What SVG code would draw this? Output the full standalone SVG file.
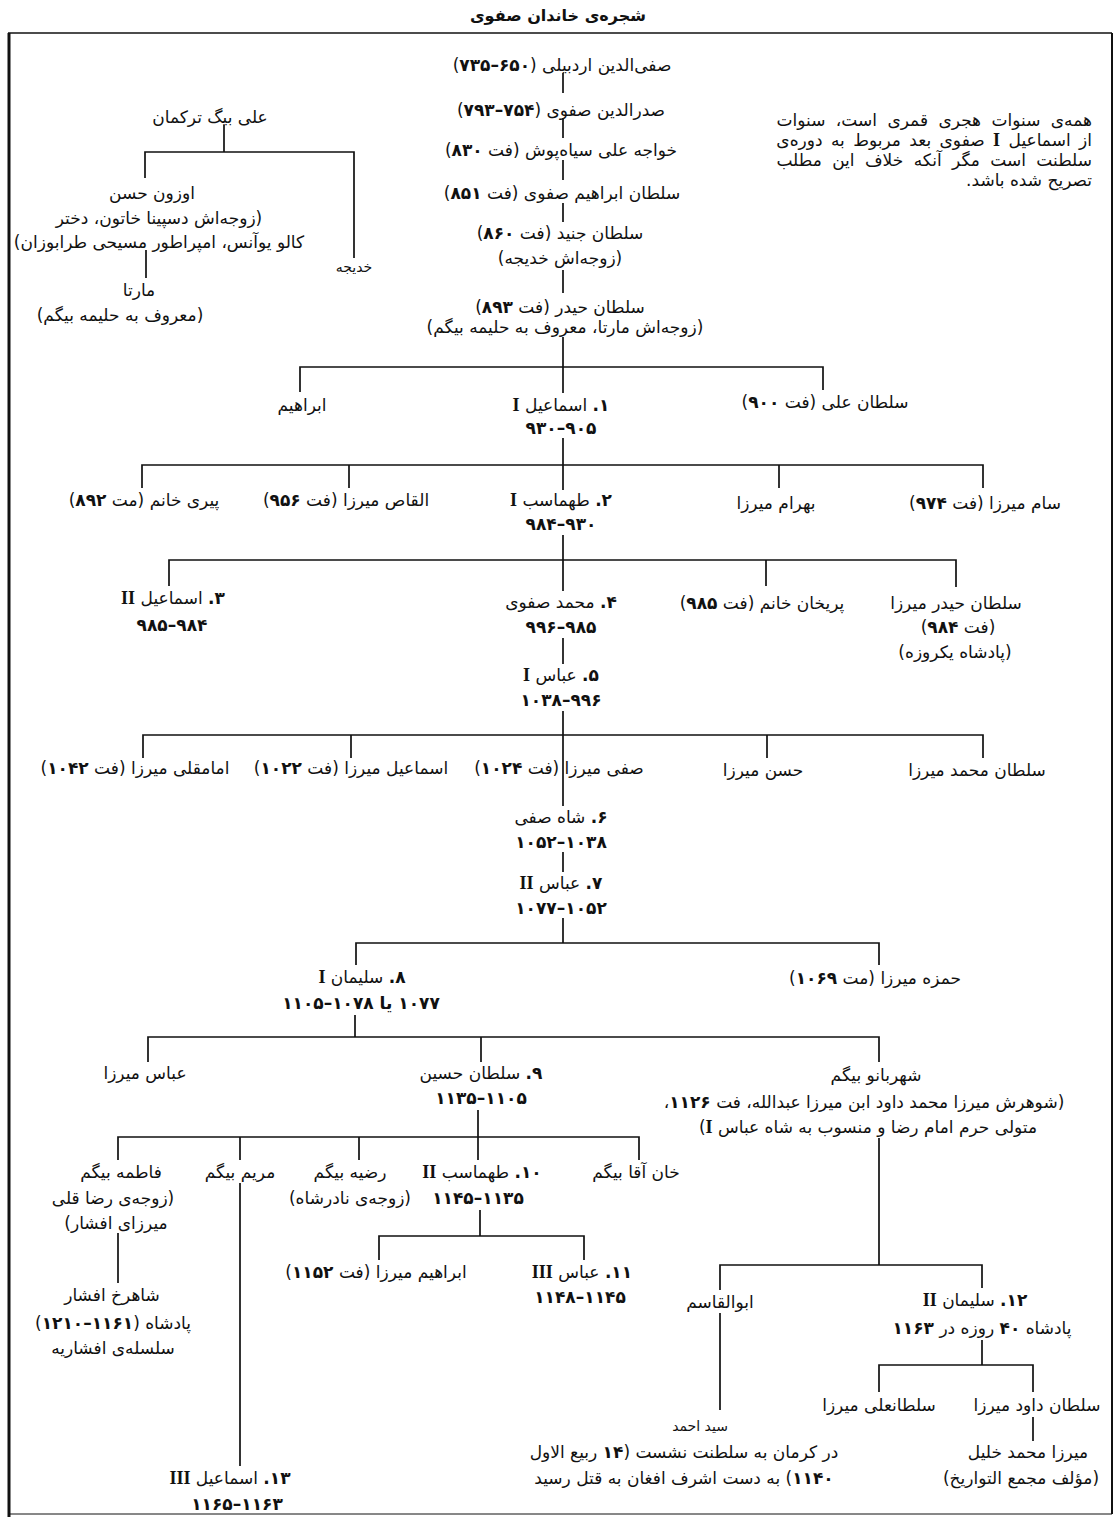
<svg xmlns="http://www.w3.org/2000/svg" width="1117" height="1517" viewBox="0 0 1117 1517">
<style>
text { font-family: "DejaVu Sans", sans-serif; font-size: 17px; direction: rtl; text-anchor: middle; fill: #111; }
.b { font-weight: bold; }
.rm { font-family: "Liberation Serif", serif; font-weight: bold; font-size: 18px; }
.title { font-size: 16px; font-weight: bold; }
.note { font-size: 17px; text-anchor: start; }
.sm { font-size: 14px; }
.c { stroke: #111; stroke-width: 1.7; fill: none; }
.fr { stroke: #111; fill: none; }
</style>
<rect width="1117" height="1517" fill="#fff"/>
<g id="frame">
  <line class="fr" x1="8" y1="33" x2="1112" y2="33" stroke-width="1.5"/>
  <line class="fr" x1="9" y1="33" x2="9" y2="1517" stroke-width="3"/>
  <line class="fr" x1="1112" y1="33" x2="1112" y2="1514" stroke-width="2"/>
  <line class="fr" x1="9" y1="1514" x2="1112" y2="1514" stroke-width="1" stroke="#888"/>
</g>
<g id="title"><text class="title" x="558" y="21">شجره&#x200C;ی خاندان صفوی</text></g>
<g id="connectors">
  <path class="c" d="M224 125 V152 M145 178 V152 H354 V258 M146 250 V278"/>
  <path class="c" d="M563 73 V93 M563 118 V138 M563 160 V180 M563 203 V222 M563 270 V293 M563 337 V393"/>
  <path class="c" d="M300 392 V367 H823 V390"/>
  <path class="c" d="M563 438 V490 M142 488 V465 H983 V488 M349 465 V488 M779 465 V488"/>
  <path class="c" d="M563 535 V591 M169 586 V560 H956 V587 M766 560 V586"/>
  <path class="c" d="M563 638 V664"/>
  <path class="c" d="M563 711 V806 M143 758 V735 H983 V758 M351 735 V758 M767 735 V758"/>
  <path class="c" d="M563 852 V872 M563 918 V943 M356 965 V943 H879 V965"/>
  <path class="c" d="M355 1015 V1037 M148 1062 V1037 H879 V1062 M481 1037 V1062"/>
  <path class="c" d="M478 1110 V1160 M118 1160 V1137 H639 V1160 M240 1137 V1160 M359 1137 V1160"/>
  <path class="c" d="M480 1210 V1236 M379 1260 V1236 H584 V1260"/>
  <path class="c" d="M118 1233 V1283 M240 1183 V1466"/>
  <path class="c" d="M879 1138 V1265 M720 1290 V1265 H982 V1288 M720 1313 V1410"/>
  <path class="c" d="M982 1340 V1365 M879 1392 V1365 H1033 V1392 M1033 1417 V1441"/>
</g>
<g id="note">
  <text class="note" x="1092" y="126" word-spacing="5">همه&#x200C;ی سنوات هجری قمری است، سنوات</text>
  <text class="note" x="1092" y="146" word-spacing="3">از اسماعیل <tspan class="rm">I</tspan> صفوی بعد مربوط به دوره&#x200C;ی</text>
  <text class="note" x="1092" y="166" word-spacing="5">سلطنت است مگر آنکه خلاف این مطلب</text>
  <text class="note" x="1092" y="186">تصریح شده باشد.</text>
</g>
<g id="ali-beg"><text x="210" y="123">علی بیگ ترکمان</text></g>
<g id="uzun-hasan">
  <text x="152" y="199">اوزون حسن</text>
  <text x="159" y="224">(زوجه&#x200C;اش دسپینا خاتون، دختر</text>
  <text x="159" y="248">کالو یوآنس، امپراطور مسیحی طرابوزان)</text>
</g>
<g id="khadijeh"><text class="sm" x="354" y="272">خدیجه</text></g>
<g id="marta">
  <text x="139" y="296">مارتا</text>
  <text x="120" y="321">(معروف به حلیمه بیگم)</text>
</g>
<g id="safi-al-din"><text x="562" y="71">صفی&#x200C;الدین اردبیلی (<tspan class="b">۶۵۰–۷۳۵</tspan>)</text></g>
<g id="sadr-al-din"><text x="561" y="116">صدرالدین صفوی (<tspan class="b">۷۵۴–۷۹۳</tspan>)</text></g>
<g id="khwaja-ali"><text x="561" y="156">خواجه علی سیاه&#x200C;پوش (فت <tspan class="b">۸۳۰</tspan>)</text></g>
<g id="ebrahim-safavi"><text x="562" y="199">سلطان ابراهیم صفوی (فت <tspan class="b">۸۵۱</tspan>)</text></g>
<g id="jonayd">
  <text x="560" y="239">سلطان جنید (فت <tspan class="b">۸۶۰</tspan>)</text>
  <text x="560" y="264">(زوجه&#x200C;اش خدیجه)</text>
</g>
<g id="haydar">
  <text x="560" y="313">سلطان حیدر (فت <tspan class="b">۸۹۳</tspan>)</text>
  <text x="565" y="333">(زوجه&#x200C;اش مارتا، معروف به حلیمه بیگم)</text>
</g>
<g id="ebrahim"><text x="302" y="411">ابراهیم</text></g>
<g id="ismail1">
  <text x="561" y="411"><tspan class="b">۱.</tspan> اسماعیل <tspan class="rm">I</tspan></text>
  <text class="b" x="561" y="434">۹۰۵–۹۳۰</text>
</g>
<g id="soltan-ali"><text x="825" y="408">سلطان علی (فت <tspan class="b">۹۰۰</tspan>)</text></g>
<g id="piri-khanom"><text x="144" y="506">پیری خانم (مت <tspan class="b">۸۹۲</tspan>)</text></g>
<g id="alqas"><text x="346" y="506">القاص میرزا (فت <tspan class="b">۹۵۶</tspan>)</text></g>
<g id="tahmasp1">
  <text x="561" y="506"><tspan class="b">۲.</tspan> طهماسب <tspan class="rm">I</tspan></text>
  <text class="b" x="561" y="530">۹۳۰–۹۸۴</text>
</g>
<g id="bahram"><text x="776" y="509">بهرام میرزا</text></g>
<g id="sam"><text x="985" y="509">سام میرزا (فت <tspan class="b">۹۷۴</tspan>)</text></g>
<g id="ismail2">
  <text x="173" y="604"><tspan class="b">۳.</tspan> اسماعیل <tspan class="rm">II</tspan></text>
  <text class="b" x="172" y="631">۹۸۴–۹۸۵</text>
</g>
<g id="mohammad">
  <text x="561" y="608"><tspan class="b">۴.</tspan> محمد صفوی</text>
  <text class="b" x="561" y="633">۹۸۵–۹۹۶</text>
</g>
<g id="parikhan"><text x="762" y="609">پریخان خانم (فت <tspan class="b">۹۸۵</tspan>)</text></g>
<g id="haydar-mirza">
  <text x="956" y="609">سلطان حیدر میرزا</text>
  <text x="958" y="633">(فت <tspan class="b">۹۸۴</tspan>)</text>
  <text x="955" y="658">(پادشاه یکروزه)</text>
</g>
<g id="abbas1">
  <text x="561" y="681"><tspan class="b">۵.</tspan> عباس <tspan class="rm">I</tspan></text>
  <text class="b" x="561" y="706">۹۹۶–۱۰۳۸</text>
</g>
<g id="emamqoli"><text x="135" y="774">امامقلی میرزا (فت <tspan class="b">۱۰۴۲</tspan>)</text></g>
<g id="ismail-mirza"><text x="351" y="774">اسماعیل میرزا (فت <tspan class="b">۱۰۲۲</tspan>)</text></g>
<g id="safi-mirza"><text x="559" y="774">صفی میرزا (فت <tspan class="b">۱۰۲۴</tspan>)</text></g>
<g id="hasan-mirza"><text x="763" y="776">حسن میرزا</text></g>
<g id="soltan-mohammad"><text x="977" y="776">سلطان محمد میرزا</text></g>
<g id="shah-safi">
  <text x="561" y="823"><tspan class="b">۶.</tspan> شاه صفی</text>
  <text class="b" x="561" y="848">۱۰۳۸–۱۰۵۲</text>
</g>
<g id="abbas2">
  <text x="561" y="889"><tspan class="b">۷.</tspan> عباس <tspan class="rm">II</tspan></text>
  <text class="b" x="561" y="914">۱۰۵۲–۱۰۷۷</text>
</g>
<g id="soleiman1">
  <text x="362" y="983"><tspan class="b">۸.</tspan> سلیمان <tspan class="rm">I</tspan></text>
  <text class="b" x="361" y="1009">۱۰۷۷ یا ۱۰۷۸–۱۱۰۵</text>
</g>
<g id="hamzeh"><text x="875" y="984">حمزه میرزا (مت <tspan class="b">۱۰۶۹</tspan>)</text></g>
<g id="abbas-mirza"><text x="145" y="1079">عباس میرزا</text></g>
<g id="soltan-hosein">
  <text x="481" y="1079"><tspan class="b">۹.</tspan> سلطان حسین</text>
  <text class="b" x="481" y="1104">۱۱۰۵–۱۱۳۵</text>
</g>
<g id="shahrbanu">
  <text x="876" y="1081">شهربانو بیگم</text>
  <text x="864" y="1108">(شوهرش میرزا محمد داود ابن میرزا عبدالله، فت <tspan class="b">۱۱۲۶</tspan>،</text>
  <text x="868" y="1133">متولی حرم امام رضا و منسوب به شاه عباس <tspan class="rm">I</tspan>)</text>
</g>
<g id="fatemeh">
  <text x="121" y="1178">فاطمه بیگم</text>
  <text x="113" y="1204">(زوجه&#x200C;ی رضا قلی</text>
  <text x="116" y="1229">میرزای افشار)</text>
</g>
<g id="maryam"><text x="240" y="1178">مریم بیگم</text></g>
<g id="raziyeh">
  <text x="350" y="1178">رضیه بیگم</text>
  <text x="350" y="1204">(زوجه&#x200C;ی نادرشاه)</text>
</g>
<g id="tahmasp2">
  <text x="482" y="1178"><tspan class="b">۱۰.</tspan> طهماسب <tspan class="rm">II</tspan></text>
  <text class="b" x="478" y="1204">۱۱۳۵–۱۱۴۵</text>
</g>
<g id="khan-agha"><text x="636" y="1178">خان آقا بیگم</text></g>
<g id="shahrokh">
  <text x="112" y="1301">شاهرخ افشار</text>
  <text x="113" y="1329">پادشاه (<tspan class="b">۱۱۶۱–۱۲۱۰</tspan>)</text>
  <text x="113" y="1354">سلسله&#x200C;ی افشاریه</text>
</g>
<g id="ebrahim-mirza"><text x="376" y="1278">ابراهیم میرزا (فت <tspan class="b">۱۱۵۲</tspan>)</text></g>
<g id="abbas3">
  <text x="582" y="1278"><tspan class="b">۱۱.</tspan> عباس <tspan class="rm">III</tspan></text>
  <text class="b" x="580" y="1303">۱۱۴۵–۱۱۴۸</text>
</g>
<g id="abolqasem"><text x="720" y="1308">ابوالقاسم</text></g>
<g id="soleiman2">
  <text x="975" y="1306"><tspan class="b">۱۲.</tspan> سلیمان <tspan class="rm">II</tspan></text>
  <text x="982" y="1334">پادشاه <tspan class="b">۴۰</tspan> روزه در <tspan class="b">۱۱۶۳</tspan></text>
</g>
<g id="seyyed-ahmad">
  <text class="sm" x="700" y="1431">سید احمد</text>
  <text x="684" y="1458">در کرمان به سلطنت نشست (<tspan class="b">۱۴</tspan> ربیع الاول</text>
  <text x="684" y="1484"><tspan class="b">۱۱۴۰</tspan>) به دست اشرف افغان به قتل رسید</text>
</g>
<g id="soltanali-mirza"><text x="879" y="1411">سلطانعلی میرزا</text></g>
<g id="davud-mirza"><text x="1037" y="1411">سلطان داود میرزا</text></g>
<g id="mohammad-khalil">
  <text x="1028" y="1458">میرزا محمد خلیل</text>
  <text x="1021" y="1484">(مؤلف مجمع التواریخ)</text>
</g>
<g id="ismail3">
  <text x="230" y="1484"><tspan class="b">۱۳.</tspan> اسماعیل <tspan class="rm">III</tspan></text>
  <text class="b" x="237" y="1510">۱۱۶۳–۱۱۶۵</text>
</g>
</svg>
